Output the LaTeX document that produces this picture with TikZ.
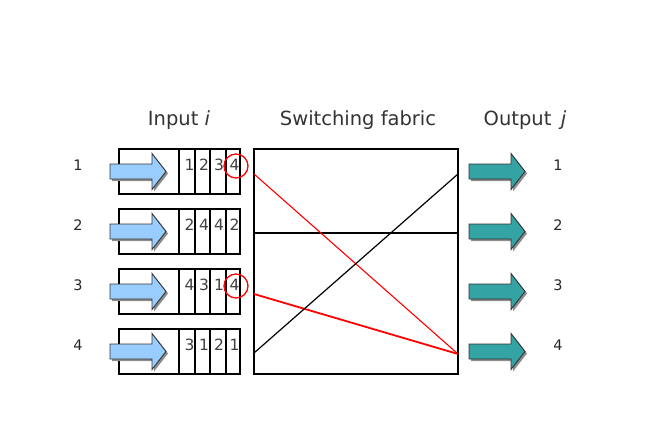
\documentclass[tikz,border=0pt]{standalone}
\usepackage{fontspec}
\setmainfont{DejaVu Sans}
\begin{document}
\begin{tikzpicture}[x=1pt,y=-1pt,
  box/.style={draw=black,line width=1.8pt},
  cell/.style={font=\fontsize{15.5}{16}\selectfont,text=black!75,inner sep=0pt},
  lbl/.style={font=\fontsize{14.5}{16}\selectfont,text=black!85,inner sep=0pt},
  title/.style={font=\fontsize{19.5}{22}\selectfont,text=black!80,inner sep=0pt},
  pics/bigarrow/.style={code={
    \fill[black!45] (2,-5.5) -- (44,-5.5) -- (44,-16) -- (58,2) -- (44,20) -- (44,9.5) -- (2,9.5) -- cycle;
    \filldraw[fill=#1,draw=black!80,line width=0.9pt] (0,-7.5) -- (42,-7.5) -- (42,-18) -- (56,0) -- (42,18) -- (42,7.5) -- (0,7.5) -- cycle;
  }}]
\useasboundingbox (0,0) rectangle (669,441);
\definecolor{inblue}{HTML}{99CCFF}
\definecolor{outteal}{HTML}{33A3A3}
% titles
\node[title] (ti) at (179,120) {Input \textit{i}};
\node[title] (tf) at (358,120) {Switching fabric};
\node[title] (to) at (525,120) {Output\, \textit{j}};
% input queues
\foreach \r/\a/\b/\c/\d in {0/1/2/3/4, 1/2/4/4/2, 2/4/3/1/4, 3/3/1/2/1}{
  \pgfmathsetmacro{\yt}{149+60*\r}
  \pgfmathsetmacro{\ym}{\yt+22.5}
  \pgfmathtruncatemacro{\n}{\r+1}
  \draw[box] (119,\yt) rectangle (240,\yt+45);
  \foreach \xx in {179,195,210,226}{ \draw[box] (\xx,\yt) -- (\xx,\yt+45); }
  \pic at (110,\ym) {bigarrow=inblue};
  \node[cell] (q\n a) at (189.5,\ym-6.5) {\a};
  \node[cell] (q\n b) at (204,\ym-6.5) {\b};
  \node[cell] (q\n c) at (219,\ym-6.5) {\c};
  \node[cell] (q\n d) at (234.5,\ym-6.5) {\d};
  \node[lbl] (in\n) at (78,\ym-6.5) {\n};
  \pic at (469,\ym) {bigarrow=outteal};
  \node[lbl] (out\n) at (558,\ym-6.5) {\n};
}
% HOL circles
\draw[red,line width=1.3pt] (236,166) circle (12);
\draw[red,line width=1.3pt] (236,286) circle (12);
% switching fabric
\node[draw=black,line width=1.8pt,minimum width=204pt,minimum height=225pt,inner sep=0pt] (sf) at (356,261.5) {};
\coordinate (s1) at (254,233);
\coordinate (s2) at (458,233);
\draw[black,line width=1.5pt] (s1) -- (s2);
\coordinate (a1) at (254,174);
\coordinate (a3) at (254,294);
\coordinate (a4) at (254,353);
\coordinate (b1) at (458,174);
\coordinate (b4) at (458,354);
\draw[red,line width=1.1pt] (a1) -- (b4);
\draw[red,line width=1.8pt] (a3) -- (b4);
\draw[black,line width=1.2pt] (a4) -- (b1);
\end{tikzpicture}
\end{document}
